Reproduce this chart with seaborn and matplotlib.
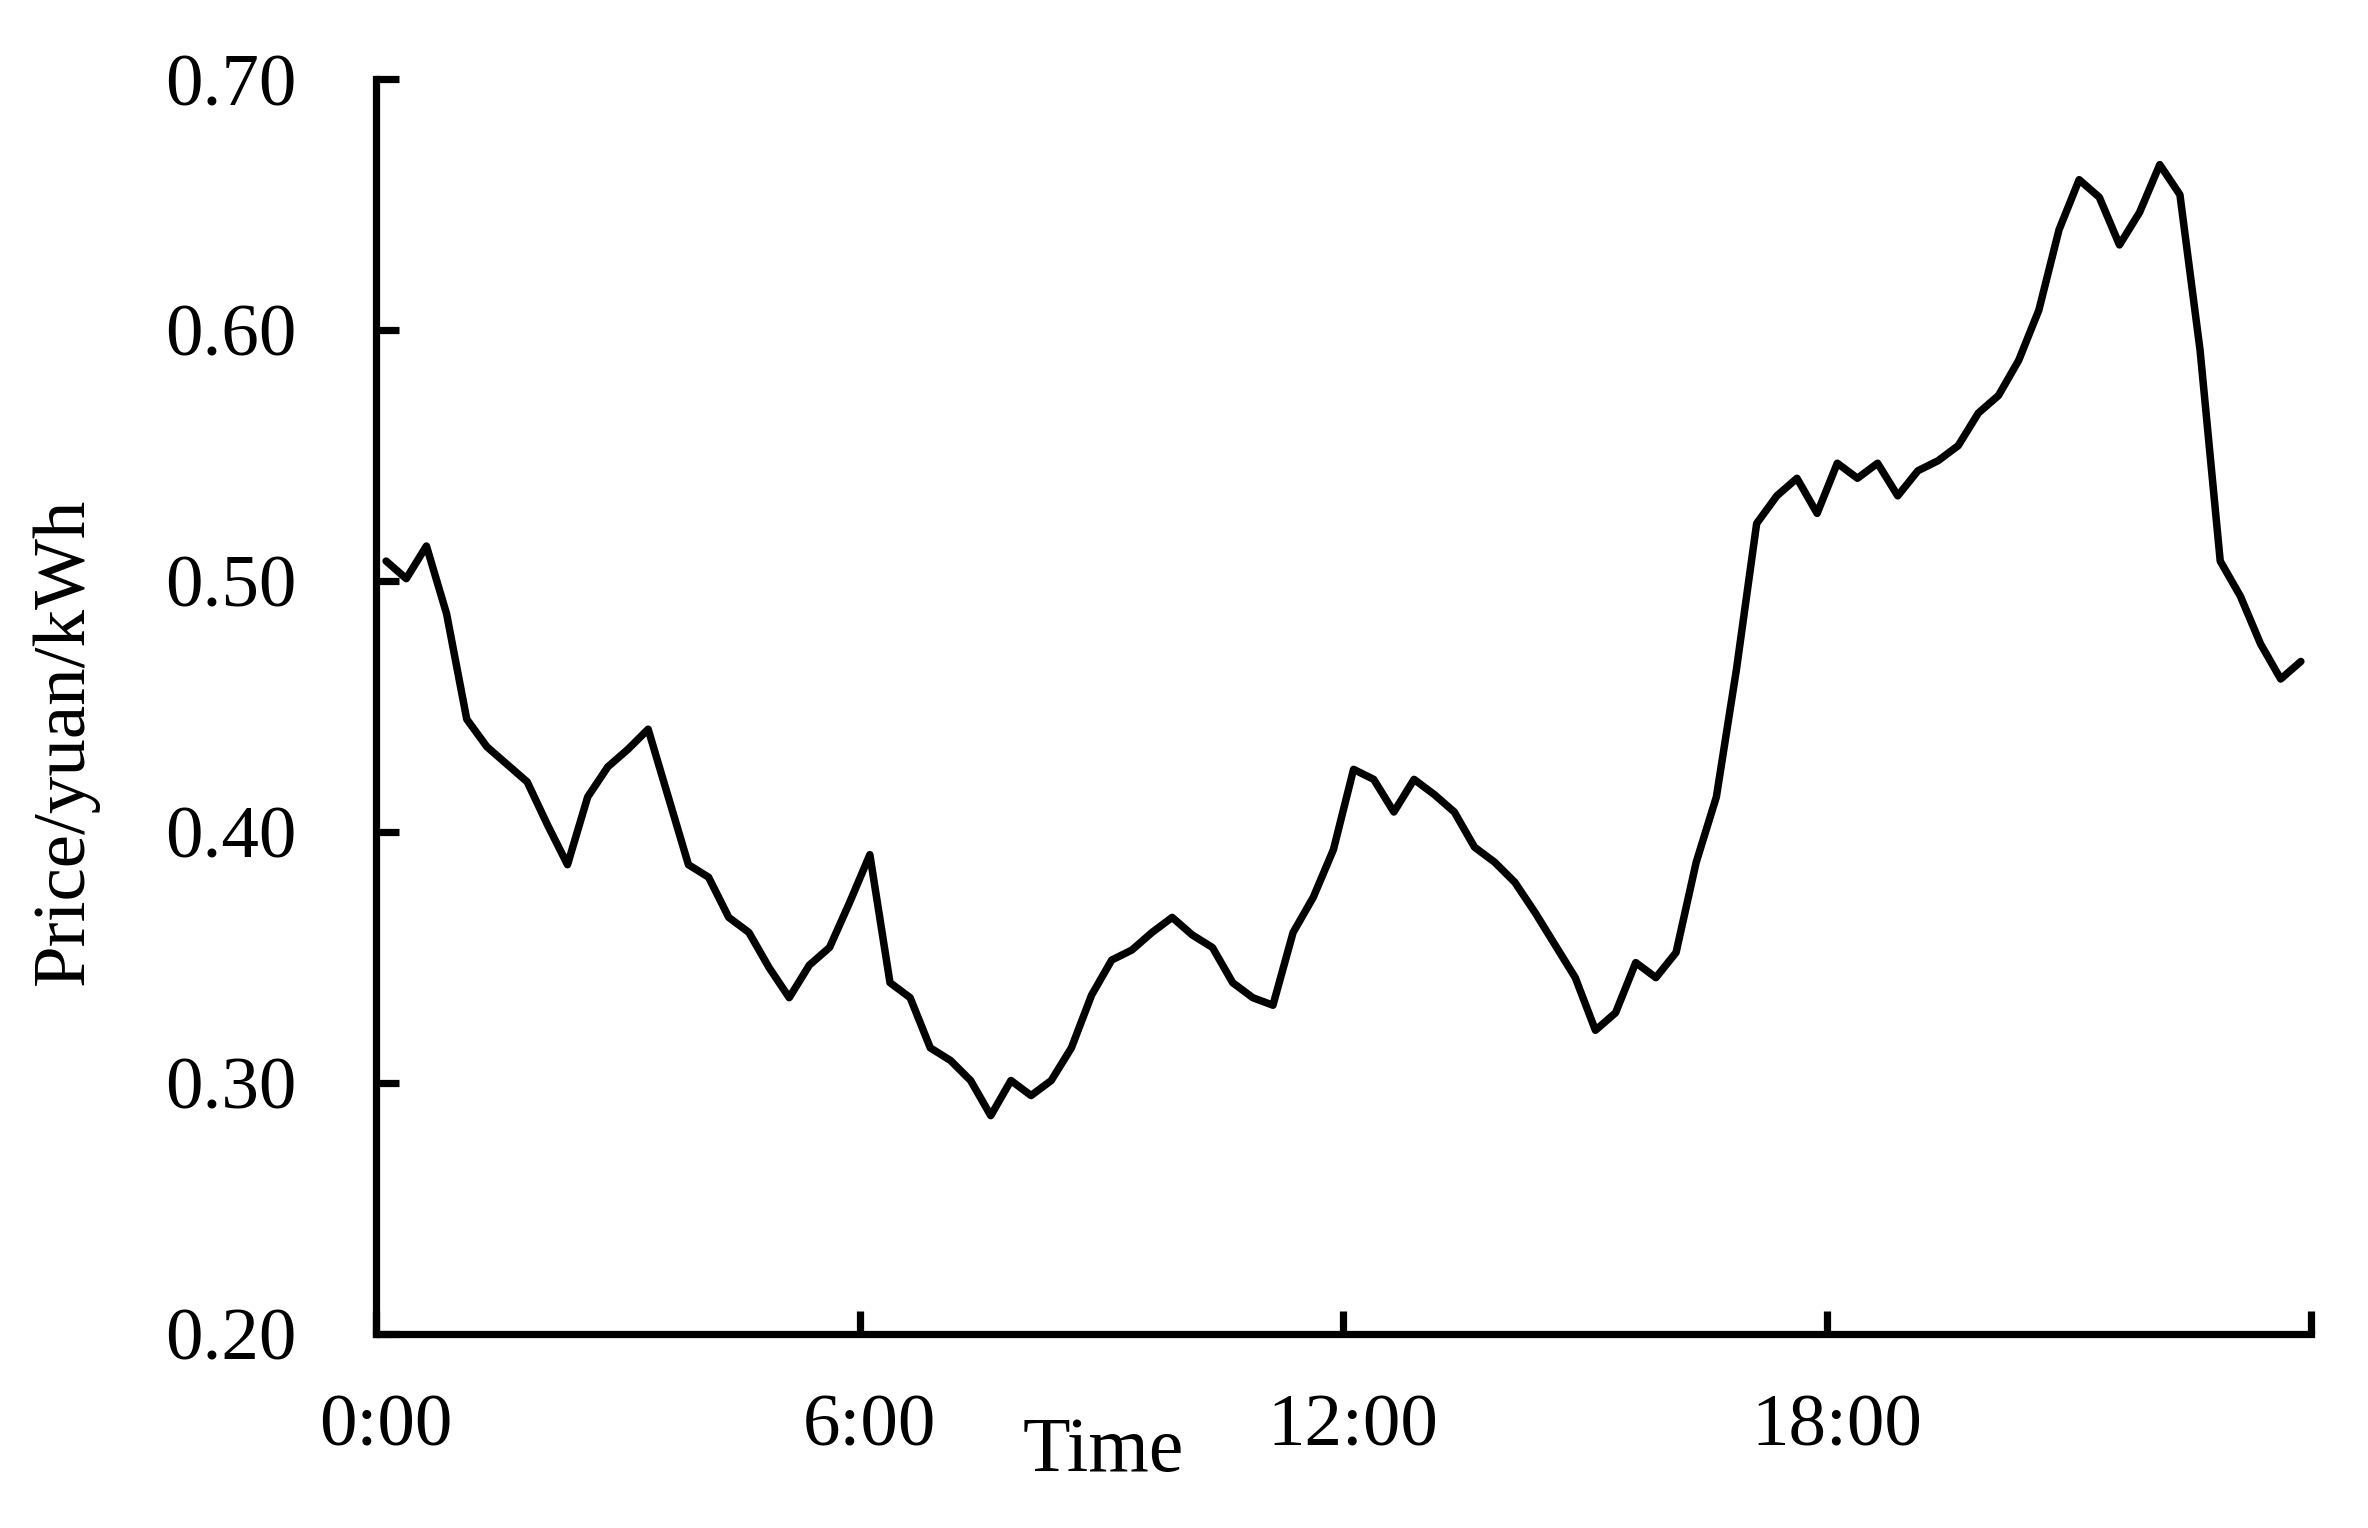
import numpy as np
import pandas as pd
import seaborn as sns
import matplotlib.pyplot as plt
from matplotlib.transforms import ScaledTranslation

# electricity price for each 15-min slot of the day (yuan/kWh)
price = [0.508, 0.501, 0.514, 0.487, 0.445, 0.434, 0.427, 0.420, 0.403, 0.387,
         0.414, 0.426, 0.433, 0.441, 0.414, 0.387, 0.382, 0.366, 0.360, 0.346,
         0.334, 0.347, 0.354, 0.372, 0.391, 0.340, 0.334, 0.314, 0.309, 0.301,
         0.287, 0.301, 0.295, 0.301, 0.314, 0.335, 0.349, 0.353, 0.360, 0.366,
         0.359, 0.354, 0.340, 0.334, 0.331, 0.360, 0.374, 0.393, 0.425, 0.421,
         0.408, 0.421, 0.415, 0.408, 0.394, 0.388, 0.380, 0.368, 0.355, 0.342,
         0.321, 0.328, 0.348, 0.342, 0.352, 0.388, 0.414, 0.465, 0.523, 0.534,
         0.541, 0.527, 0.547, 0.541, 0.547, 0.534, 0.544, 0.548, 0.554, 0.567,
         0.574, 0.588, 0.608, 0.640, 0.660, 0.653, 0.634, 0.647, 0.666, 0.654,
         0.592, 0.508, 0.494, 0.475, 0.461, 0.468]

# slot midpoints in hours
slots = np.arange(len(price))
hours = (slots + 0.5) / 4

x_ticks = [0, 6, 12, 18, 24]
x_labels = ['0:00', '6:00', '12:00', '18:00', '']
y_ticks = [0.20, 0.30, 0.40, 0.50, 0.60, 0.70]
y_labels = ['0.20', '0.30', '0.40', '0.50', '0.60', '0.70']

df = pd.DataFrame({'hour': hours, 'price': price})

sns.set_style('ticks')
plt.rcParams['font.family'] = ['Liberation Serif', 'DejaVu Serif']
plt.rcParams['text.color'] = 'black'
plt.rcParams['axes.labelcolor'] = 'black'

fig = plt.figure(figsize=(23.68, 15.28), dpi=100)
ax = fig.add_axes([0.1588, 0.127, 0.8171, 0.8211])

sns.lineplot(data=df, x='hour', y='price', color='black', linewidth=5.4, ax=ax)

ax.set_xlim(0, 24)
ax.set_ylim(0.2, 0.7)
ax.set_xticks(x_ticks)
ax.set_xticklabels(x_labels)
ax.set_yticks(y_ticks)
ax.set_yticklabels(y_labels)

sns.despine(ax=ax)
for side in ['left', 'bottom']:
    ax.spines[side].set_linewidth(5.2)
    ax.spines[side].set_color('black')

ax.tick_params(axis='both', direction='in', length=16.5, width=5.2,
               color='black', labelsize=54, labelcolor='black')
ax.tick_params(axis='x', pad=43)
ax.tick_params(axis='y', pad=57)

# x tick labels sit a little right of their ticks in the original
shift = ScaledTranslation(7 / 72, 0, fig.dpi_scale_trans)
for lab in ax.get_xticklabels():
    lab.set_transform(lab.get_transform() + shift)

ax.set_xlabel('Time', fontsize=56)
ax.xaxis.set_label_coords(0.376, -0.066)
ax.set_ylabel('Price/yuan/kWh', fontsize=54)
ax.yaxis.set_label_coords(-0.143, 0.4725)

fig.savefig('out.png', dpi=100)
